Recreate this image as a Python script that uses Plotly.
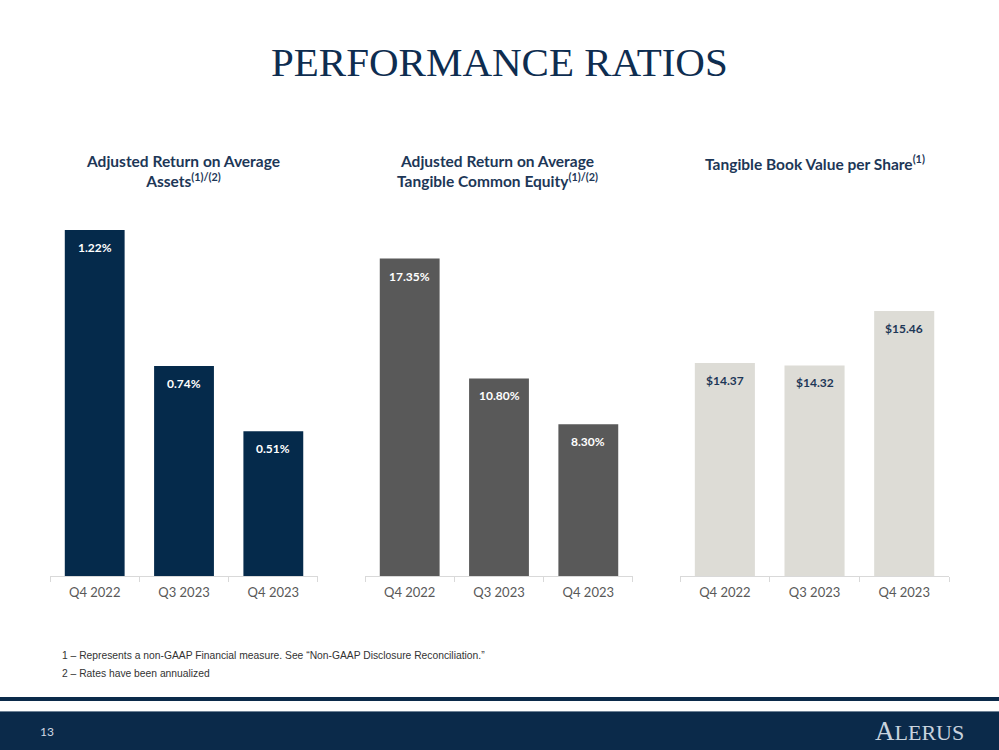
import plotly.graph_objects as go

categories = ["Q4 2022", "Q3 2023", "Q4 2023"]
roaa = [1.22, 0.74, 0.51]
rotce = [17.35, 10.80, 8.30]
tbvps = [14.37, 14.32, 15.46]
roaa_labels = ["1.22%", "0.74%", "0.51%"]
rotce_labels = ["17.35%", "10.80%", "8.30%"]
tbvps_labels = ["$14.37", "$14.32", "$15.46"]

NAVY = "#052a4b"
GRAY = "#595959"
LIGHT = "#dddcd6"
TITLE = "#0e2d50"

fig = go.Figure()
series = [
    (roaa, roaa_labels, NAVY, "white", "x", "y"),
    (rotce, rotce_labels, GRAY, "white", "x2", "y2"),
    (tbvps, tbvps_labels, LIGHT, "#1d3757", "x3", "y3"),
]
for vals, labs, col, tcol, xa, ya in series:
    fig.add_trace(go.Bar(x=categories, y=vals, marker=dict(color=col, line=dict(width=0)),
                         xaxis=xa, yaxis=ya, showlegend=False, hoverinfo="skip"))
    for c, v, l in zip(categories, vals, labs):
        fig.add_annotation(x=c, y=v, xref=xa, yref=ya, text="<b>%s</b>" % l, showarrow=False,
                           yanchor="top", yshift=-8, font=dict(family="Lato", size=12, color=tcol))

ydom = [0.232, 0.7333]
xdoms = [[0.0501, 0.3183], [0.3654, 0.6336], [0.6807, 0.950]]
yranges = [[0, 1.3253], [0, 20.55], [9.905, 17.787]]
for i, (xd, yr) in enumerate(zip(xdoms, yranges)):
    s = "" if i == 0 else str(i + 1)
    fig.update_layout(**{
        "xaxis" + s: dict(domain=xd, anchor="y" + s, showline=True, linecolor="#d9d9d9", linewidth=1,
                          ticks="outside", tickson="boundaries", ticklen=5, tickcolor="#d9d9d9",
                          ticklabelstandoff=4,
                          tickfont=dict(family="Lato", size=13, color="#595959"), fixedrange=True),
        "yaxis" + s: dict(domain=ydom, anchor="x" + s, range=yr, visible=False, showgrid=False,
                          fixedrange=True),
    })

fig.update_layout(bargap=0.33)

subtitles = [
    ("Adjusted Return on Average<br>Assets<sup>(1)/(2)</sup>", 0.183),
    ("Adjusted Return on Average<br>Tangible Common Equity<sup>(1)/(2)</sup>", 0.498),
    ("Tangible Book Value per Share<sup>(1)</sup>", 0.816),
]
for t, xc in subtitles:
    fig.add_annotation(x=xc, y=1 - 150 / 750, xref="paper", yref="paper", text="<b>%s</b>" % t,
                       showarrow=False, xanchor="center", yanchor="top", align="center",
                       font=dict(family="Lato", size=15.5, color="#1d3757"))

fig.add_annotation(x=0.5, y=1 - 62 / 750, xref="paper", yref="paper", text="PERFORMANCE RATIOS",
                   showarrow=False, xanchor="center", yanchor="middle",
                   font=dict(family="Liberation Serif", size=41, color=TITLE))

fig.add_annotation(x=60 / 999, y=1 - 655 / 750, xref="paper", yref="paper",
                   text="1 \u2013 Represents a non-GAAP Financial measure. See \u201cNon-GAAP Disclosure Reconciliation.\u201d",
                   showarrow=False, xanchor="left", yanchor="middle",
                   font=dict(family="Liberation Sans", size=10.3, color="#333333"))
fig.add_annotation(x=60 / 999, y=1 - 673 / 750, xref="paper", yref="paper",
                   text="2 \u2013 Rates have been annualized",
                   showarrow=False, xanchor="left", yanchor="middle",
                   font=dict(family="Liberation Sans", size=10.3, color="#333333"))

# footer
fig.add_shape(type="rect", xref="paper", yref="paper", x0=0, x1=1, y0=1 - 701 / 750, y1=1 - 697 / 750,
              fillcolor="#0b2a4a", line=dict(width=0), layer="above")
fig.add_shape(type="rect", xref="paper", yref="paper", x0=0, x1=1, y0=0, y1=1 - 711 / 750,
              fillcolor="#0b2a4a", line=dict(width=0), layer="above")
fig.add_shape(type="line", xref="paper", yref="paper", x0=0, x1=1, y0=1 - 711.5 / 750, y1=1 - 711.5 / 750,
              line=dict(color="#6f8296", width=1), layer="above")
fig.add_annotation(x=47 / 999, y=1 - 731 / 750, xref="paper", yref="paper", text="13",
                   showarrow=False, xanchor="center", yanchor="middle",
                   font=dict(family="Lato", size=12, color="#d0d8e2"))
fig.add_annotation(x=966 / 999, y=1 - 731 / 750, xref="paper", yref="paper",
                   text="<span style='font-size:27px'>A</span>LERUS",
                   showarrow=False, xanchor="right", yanchor="middle",
                   font=dict(family="Liberation Serif", size=22, color="#c9d3de"))

fig.update_layout(width=999, height=750, margin=dict(l=0, r=0, t=0, b=0),
                  paper_bgcolor="white", plot_bgcolor="white")
fig.write_html("out.html", config={"displayModeBar": False},
               post_script="document.body.style.margin='0';document.body.style.overflow='hidden';"
                           "document.documentElement.style.overflow='hidden';")
